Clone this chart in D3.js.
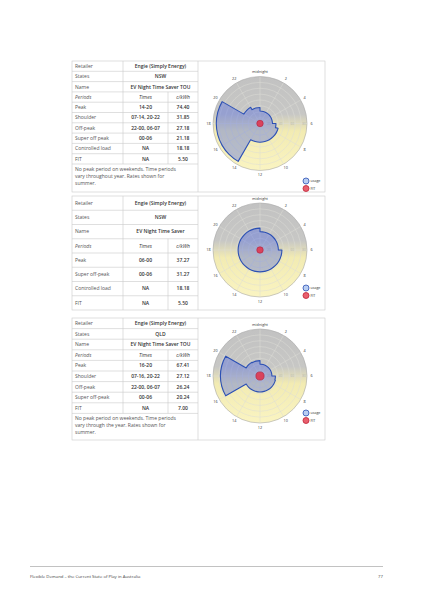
<!DOCTYPE html>
<html>
<head>
<meta charset="utf-8">
<script src="https://cdn.jsdelivr.net/npm/d3@7"></script>
<style>
  body { margin: 0; background: #fff; }
  svg { display: block; }
  text { font-family: "Open Sans", Lato, sans-serif; }
</style>
</head>
<body>
<svg width="424" height="600"></svg>
<script>
// clock ticks and ring ticks
const hourTicks = [0, 2, 4, 6, 8, 10, 12, 14, 16, 18, 20, 22];
const hourLabels = ["midnight", "2", "4", "6", "8", "10", "12", "14", "16", "18", "20", "22"];
const ringTicks = [10, 20, 30, 40, 50, 60, 70, 80];
const ringLabels = [20, 40, 60, 80];
const legendLabels = ["usage", "FIT"];

// panel 1
const rows1 = [
    ["Retailer", "Engie (Simply Energy)"],
    ["States", "NSW"],
    ["Name", "EV Night Time Saver TOU"],
    ["Periods", "Times", "c/kWh"],
    ["Peak", "14-20", "74.40"],
    ["Shoulder", "07-14, 20-22", "31.85"],
    ["Off-peak", "22-00, 06-07", "27.18"],
    ["Super off peak", "00-06", "21.18"],
    ["Controlled load", "NA", "18.18"],
    ["FIT", "NA", "5.50"]
];
const note1 = ["No peak period on weekends. Time periods", "vary throughout year. Rates shown for", "summer."];
// c/kWh for each hour 0..23
const usage1 = [21.18, 21.18, 21.18, 21.18, 21.18, 21.18, 27.18, 31.85, 31.85, 31.85, 31.85, 31.85,
                31.85, 31.85, 74.40, 74.40, 74.40, 74.40, 74.40, 74.40, 31.85, 31.85, 27.18, 27.18];
const fit1 = 5.50;

// panel 2
const rows2 = [
    ["Retailer", "Engie (Simply Energy)"],
    ["States", "NSW"],
    ["Name", "EV Night Time Saver"],
    ["Periods", "Times", "c/kWh"],
    ["Peak", "06-00", "37.27"],
    ["Super off-peak", "00-06", "31.27"],
    ["Controlled load", "NA", "18.18"],
    ["FIT", "NA", "5.50"]
];
const note2 = [];
const usage2 = [31.27, 31.27, 31.27, 31.27, 31.27, 31.27, 37.27, 37.27, 37.27, 37.27, 37.27, 37.27,
                37.27, 37.27, 37.27, 37.27, 37.27, 37.27, 37.27, 37.27, 37.27, 37.27, 37.27, 37.27];
const fit2 = 5.50;

// panel 3
const rows3 = [
    ["Retailer", "Engie (Simply Energy)"],
    ["States", "QLD"],
    ["Name", "EV Night Time Saver TOU"],
    ["Periods", "Times", "c/kWh"],
    ["Peak", "16-20", "67.41"],
    ["Shoulder", "07-16, 20-22", "27.12"],
    ["Off-peak", "22-00, 06-07", "26.24"],
    ["Super off-peak", "00-06", "20.24"],
    ["FIT", "NA", "7.00"]
];
const note3 = ["No peak period on weekends. Time periods", "vary through the year. Rates shown for", "summer."];
const usage3 = [20.24, 20.24, 20.24, 20.24, 20.24, 20.24, 26.24, 27.12, 27.12, 27.12, 27.12, 27.12,
                27.12, 27.12, 27.12, 27.12, 67.41, 67.41, 67.41, 67.41, 27.12, 27.12, 26.24, 26.24];
const fit3 = 7.00;

const footerText = "Flexible Demand \u2013 the Current State of Play in Australia";
const pageNo = "77";

let svg = d3.select("svg");
let colX = [72, 123, 168, 198, 325];
let grid = "#c9c9c9";

let panels = [
    {top: 61, bottom: 192, rowH: 10.3, rows: rows1, note: note1, usage: usage1, fit: fit1, legendY: 181},
    {top: 196, bottom: 310, rowH: 14.25, rows: rows2, note: note2, usage: usage2, fit: fit2, legendY: 288},
    {top: 318, bottom: 440, rowH: 10.6, rows: rows3, note: note3, usage: usage3, fit: fit3, legendY: 413}
];

let defs = svg.append("defs");
let grad = defs.append("linearGradient")
    .attr("id", "bg")
    .attr("x1", 0).attr("y1", 0).attr("x2", 0).attr("y2", 1);
grad.append("stop").attr("offset", "0%").attr("stop-color", "#c2c2c2");
grad.append("stop").attr("offset", "40%").attr("stop-color", "#c7c7c5");
grad.append("stop").attr("offset", "58%").attr("stop-color", "#f2ebb2");
grad.append("stop").attr("offset", "100%").attr("stop-color", "#faf4c2");

let line = (g, x1, y1, x2, y2) => {
    g.append("line")
        .attr("x1", x1).attr("y1", y1).attr("x2", x2).attr("y2", y2)
        .attr("stroke", grid).attr("stroke-width", 0.6);
};

let drawTable = (p) => {
    let g = svg.append("g");
    g.append("rect")
        .attr("x", colX[0]).attr("y", p.top)
        .attr("width", colX[4] - colX[0]).attr("height", p.bottom - p.top)
        .attr("fill", "none").attr("stroke", grid).attr("stroke-width", 0.6);
    line(g, colX[3], p.top, colX[3], p.bottom);

    p.rows.forEach((row, i) => {
        let y0 = p.top + i * p.rowH;
        let yc = y0 + p.rowH / 2;
        if (i > 0) line(g, colX[0], y0, colX[3], y0);
        line(g, colX[1], y0, colX[1], y0 + p.rowH);
        if (row.length === 3) line(g, colX[2], y0, colX[2], y0 + p.rowH);

        let italic = row[0] === "Periods";
        g.append("text")
            .attr("x", colX[0] + 3).attr("y", yc)
            .attr("dy", "0.35em")
            .attr("font-size", 5)
            .attr("fill", "#555")
            .attr("font-style", italic ? "italic" : "normal")
            .text(row[0]);

        if (row.length === 2) {
            g.append("text")
                .attr("x", (colX[1] + colX[3]) / 2).attr("y", yc)
                .attr("dy", "0.35em")
                .attr("text-anchor", "middle")
                .attr("font-size", 5)
                .attr("font-weight", 600)
                .attr("fill", "#333")
                .text(row[1]);
        } else {
            [row[1], row[2]].forEach((t, j) => {
                g.append("text")
                    .attr("x", (colX[1 + j] + colX[2 + j]) / 2).attr("y", yc)
                    .attr("dy", "0.35em")
                    .attr("text-anchor", "middle")
                    .attr("font-size", 5)
                    .attr("font-weight", italic ? "normal" : 600)
                    .attr("font-style", italic ? "italic" : "normal")
                    .attr("fill", "#333")
                    .text(t);
            });
        }
    });

    if (p.note.length) {
        let y0 = p.top + p.rows.length * p.rowH;
        line(g, colX[0], y0, colX[3], y0);
        g.selectAll(".note")
            .data(p.note)
            .enter()
            .append("text")
            .attr("x", colX[0] + 3)
            .attr("y", (d, i) => y0 + 6.5 + i * 7)
            .attr("font-size", 5)
            .attr("fill", "#555")
            .text(d => d);
    }
};

let drawChart = (p) => {
    let cx = 260;
    let cy = (p.top + p.bottom) / 2 - 3;
    let r = d3.scaleLinear().domain([0, 80]).range([0, 47]);
    let ang = d3.scaleLinear().domain([0, 24]).range([0, 2 * Math.PI]);
    let g = svg.append("g").attr("transform", "translate(" + cx + "," + cy + ")");

    g.append("circle")
        .attr("r", r(80))
        .attr("fill", "url(#bg)");

    g.selectAll(".ring")
        .data(ringTicks)
        .enter()
        .append("circle")
        .attr("r", d => r(d))
        .attr("fill", "none")
        .attr("stroke", d => d === 80 ? "#aaa" : "#dcdcd6")
        .attr("stroke-width", d => d === 80 ? 0.6 : 0.5);

    g.selectAll(".spoke")
        .data(hourTicks)
        .enter()
        .append("line")
        .attr("x1", 0).attr("y1", 0)
        .attr("x2", h => r(80) * Math.sin(ang(h)))
        .attr("y2", h => -r(80) * Math.cos(ang(h)))
        .attr("stroke", "#dcdcd6")
        .attr("stroke-width", 0.5);

    g.selectAll(".rlabel")
        .data(ringLabels)
        .enter()
        .append("text")
        .attr("x", d => r(d) - 3)
        .attr("y", 0)
        .attr("dy", "0.35em")
        .attr("text-anchor", "middle")
        .attr("font-size", 3)
        .attr("fill", "#b8b8b0")
        .text(d => d);

    g.selectAll(".hlabel")
        .data(hourTicks)
        .enter()
        .append("text")
        .attr("x", h => (r(80) + 4.5) * Math.sin(ang(h)))
        .attr("y", h => -(r(80) + 4.5) * Math.cos(ang(h)))
        .attr("dy", "0.35em")
        .attr("text-anchor", "middle")
        .attr("font-size", 3.8)
        .attr("fill", "#333")
        .text((h, i) => hourLabels[i]);

    let path = d3.path();
    p.usage.forEach((v, h) => {
        path.arc(0, 0, r(v), ang(h) - Math.PI / 2, ang(h + 1) - Math.PI / 2);
    });
    path.closePath();
    g.append("path")
        .attr("d", path.toString())
        .attr("fill", "rgba(60, 90, 230, 0.35)")
        .attr("stroke", "#2c50b4")
        .attr("stroke-width", 1.1)
        .attr("stroke-linejoin", "round");

    g.append("circle")
        .attr("r", r(p.fit))
        .attr("fill", "#d9435c")
        .attr("stroke", "#b02040")
        .attr("stroke-width", 0.6);

    // legend
    let lg = svg.append("g");
    legendLabels.forEach((t, i) => {
        let y = p.legendY + i * 7.5;
        lg.append("circle")
            .attr("cx", 306).attr("cy", y).attr("r", 3)
            .attr("fill", i === 0 ? "#b8cdf2" : "#e8606e")
            .attr("stroke", i === 0 ? "#2c50b4" : "#c02035")
            .attr("stroke-width", 0.8);
        lg.append("text")
            .attr("x", 310.5).attr("y", y)
            .attr("dy", "0.35em")
            .attr("font-size", 3.6)
            .attr("fill", "#333")
            .text(t);
    });
};

panels.forEach(p => {
    drawTable(p);
    drawChart(p);
});

// footer
svg.append("line")
    .attr("x1", 30).attr("x2", 383).attr("y1", 566.5).attr("y2", 566.5)
    .attr("stroke", "#999").attr("stroke-width", 0.6);
svg.append("text")
    .attr("x", 30).attr("y", 578)
    .attr("font-size", 4.3).attr("fill", "#444")
    .text(footerText);
svg.append("text")
    .attr("x", 383).attr("y", 578)
    .attr("text-anchor", "end")
    .attr("font-size", 4.3).attr("fill", "#444")
    .text(pageNo);
</script>
</body>
</html>
